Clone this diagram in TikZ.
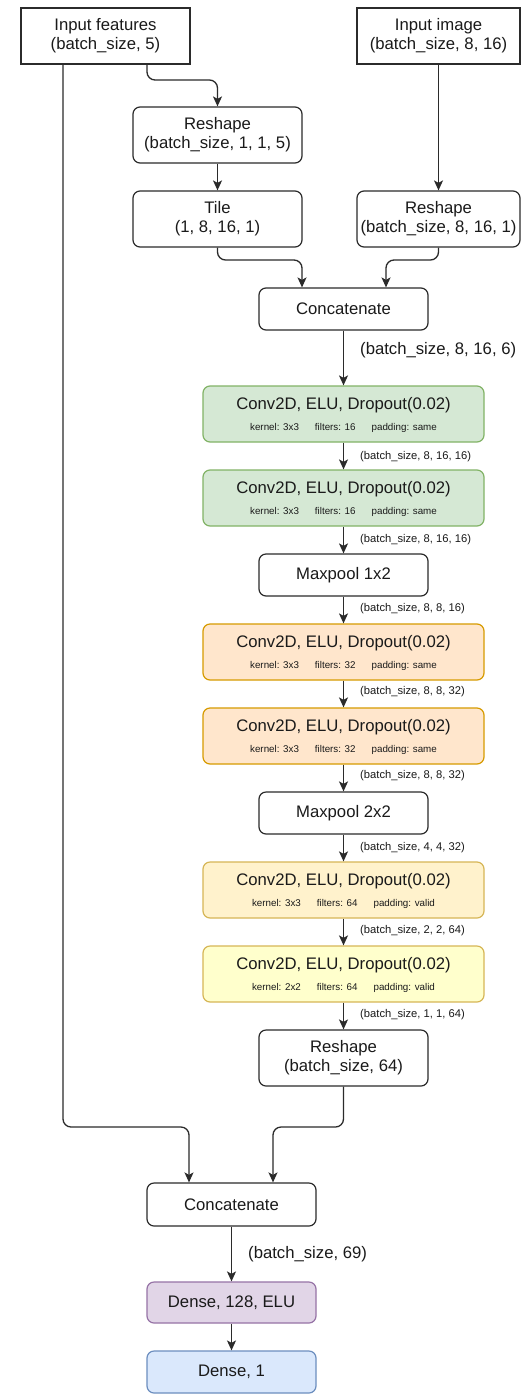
\documentclass[tikz,border=0pt]{standalone}
\usepackage{fontspec}
\setmainfont{Liberation Sans}
\usetikzlibrary{arrows.meta}
\definecolor{linec}{HTML}{2B2B2B}
\definecolor{txtc}{HTML}{1A1A1A}
\definecolor{gfill}{HTML}{D5E8D4}\definecolor{gdraw}{HTML}{82B366}
\definecolor{ofill}{HTML}{FFE6CC}\definecolor{odraw}{HTML}{D79B00}
\definecolor{lofill}{HTML}{FFF2CC}\definecolor{lodraw}{HTML}{D6B656}
\definecolor{yfill}{HTML}{FFFFCC}\definecolor{ydraw}{HTML}{D6B656}
\definecolor{pfill}{HTML}{E1D5E7}\definecolor{pdraw}{HTML}{9673A6}
\definecolor{bfill}{HTML}{DAE8FC}\definecolor{bdraw}{HTML}{6C8EBF}
\newcommand\bigfnt{\fontsize{16.7}{19.3}\selectfont}
\newcommand\smallfnt{\fontsize{9.8}{11}\selectfont}
\newcommand\lblfnt{\fontsize{11.2}{13}\selectfont}
\begin{document}
\begin{tikzpicture}[x=1pt,y=-1pt,
  base/.style={draw=linec, line width=1.2pt, inner sep=0pt, align=center, text=txtc, font=\bigfnt},
  sqbox/.style={base, minimum width=169pt, minimum height=56pt},
  rbox/.style={base, rounded corners=7pt, minimum width=169pt, minimum height=56pt},
  rlow/.style={base, rounded corners=7pt, minimum width=169pt, minimum height=42pt},
  convbox/.style={base, rounded corners=7pt, minimum width=281pt, minimum height=56pt},
  ttl/.style={inner sep=0pt, text=txtc, font=\bigfnt},
  sml/.style={inner sep=0pt, text=txtc, font=\smallfnt},
  lbl/.style={inner sep=0pt, anchor=west, text=txtc, font=\lblfnt},
  biglbl/.style={inner sep=0pt, anchor=west, text=txtc, font=\bigfnt},
  arr/.style={draw=linec, line width=1.3pt, rounded corners=8pt, -{Stealth[length=10pt,width=9pt,inset=2.5pt]}}
]
\useasboundingbox (0,0) rectangle (521,1395);
\fill[white] (0,0) rectangle (521,1395);

% top
\node[sqbox] (inF) at (105.5,36) {Input features\\(batch\_size, 5)};
\node[sqbox, minimum width=163pt] (inI) at (438.5,36) {Input image\\(batch\_size, 8, 16)};
\node[rbox] (rs1) at (217.5,135) {Reshape\\(batch\_size, 1, 1, 5)};
\node[rbox] (tile) at (217.5,219) {Tile\\(1, 8, 16, 1)};
\node[rbox, minimum width=163pt] (rs2) at (438.5,219) {Reshape\\(batch\_size, 8, 16, 1)};
\node[rlow] (cat1) at (343.5,309) {Concatenate};

% conv stack
\node[convbox, fill=gfill, draw=gdraw] (c1) at (343.5,414) {};
\node[convbox, fill=gfill, draw=gdraw] (c2) at (343.5,498) {};
\node[rlow] (mp1) at (343.5,575) {Maxpool 1x2};
\node[convbox, fill=ofill, draw=odraw] (c3) at (343.5,652) {};
\node[convbox, fill=ofill, draw=odraw] (c4) at (343.5,736) {};
\node[rlow] (mp2) at (343.5,813) {Maxpool 2x2};
\node[convbox, fill=lofill, draw=lodraw] (c5) at (343.5,890) {};
\node[convbox, fill=yfill, draw=ydraw] (c6) at (343.5,974) {};
\node[rbox] (rs3) at (343.5,1058) {Reshape\\(batch\_size, 64)};

\foreach \n/\k/\f/\p in {c1/3x3/16/same, c2/3x3/16/same, c3/3x3/32/same, c4/3x3/32/same, c5/3x3/64/valid, c6/2x2/64/valid}{
  \node[ttl] (\n t) at ([yshift=-20pt]\n.north) {Conv2D, ELU, Dropout(0.02)};
  \node[sml] (\n s) at ([yshift=-43pt]\n.north) {kernel: \k\hspace{16pt}filters: \f\hspace{16pt}padding: \p};
}

% bottom
\node[rlow, minimum height=43pt] (cat2) at (231.5,1204.5) {Concatenate};
\node[rlow, minimum height=41pt, fill=pfill, draw=pdraw] (d1) at (231.5,1302.5) {Dense, 128, ELU};
\node[rlow, minimum height=42pt, fill=bfill, draw=bdraw] (d2) at (231.5,1372) {Dense, 1};

% labels
\node[biglbl] (l0) at (360,350) {(batch\_size, 8, 16, 6)};
\node[lbl] (l1) at (360,457) {(batch\_size, 8, 16, 16)};
\node[lbl] (l2) at (360,540) {(batch\_size, 8, 16, 16)};
\node[lbl] (l3) at (360,609) {(batch\_size, 8, 8, 16)};
\node[lbl] (l4) at (360,692) {(batch\_size, 8, 8, 32)};
\node[lbl] (l5) at (360,776) {(batch\_size, 8, 8, 32)};
\node[lbl] (l6) at (360,848) {(batch\_size, 4, 4, 32)};
\node[lbl] (l7) at (360,931) {(batch\_size, 2, 2, 64)};
\node[lbl] (l8) at (360,1015) {(batch\_size, 1, 1, 64)};
\node[biglbl] (l9) at (248,1254) {(batch\_size, 69)};

% junction coordinates
\coordinate (j1) at (217.5,80);
\coordinate (j4) at (302,260);
\coordinate (j5) at (386,260);
\coordinate (j2) at (189,1127);
\coordinate (j3) at (273,1127);

% connectors
\draw[arr] ([xshift=41.5pt]inF.south) |- (j1) -- (rs1.north);
\draw[arr] (rs1) -- (tile);
\draw[arr] (inI) -- (rs2);
\draw[arr] (tile.south) |- (j4) -- ([xshift=-41.5pt]cat1.north);
\draw[arr] (rs2.south) |- (j5) -- ([xshift=42.5pt]cat1.north);
\draw[arr] (cat1) -- (c1);
\draw[arr] (c1) -- (c2);
\draw[arr] (c2) -- (mp1);
\draw[arr] (mp1) -- (c3);
\draw[arr] (c3) -- (c4);
\draw[arr] (c4) -- (mp2);
\draw[arr] (mp2) -- (c5);
\draw[arr] (c5) -- (c6);
\draw[arr] (c6) -- (rs3);
\draw[arr] ([xshift=-42.5pt]inF.south) |- (j2) -- ([xshift=-42.5pt]cat2.north);
\draw[arr] (rs3.south) |- (j3) -- ([xshift=41.5pt]cat2.north);
\draw[arr] (cat2) -- (d1);
\draw[arr] (d1) -- (d2);
\end{tikzpicture}
\end{document}
